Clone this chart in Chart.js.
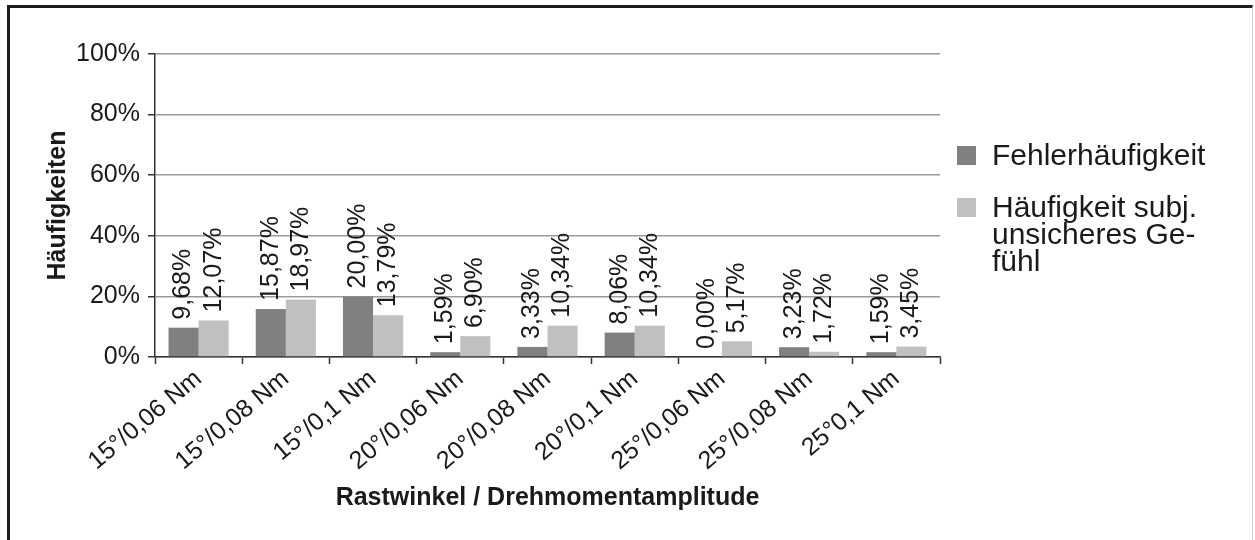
<!DOCTYPE html>
<html lang="de">
<head>
  <meta charset="UTF-8" />
  <title>Häufigkeiten nach Rastwinkel / Drehmomentamplitude</title>
  <script src="https://cdn.jsdelivr.net/npm/chart.js"></script>
  <style>
    * { margin: 0; padding: 0; box-sizing: border-box; }
    body { background: #fff; width: 1255px; height: 540px; overflow: hidden; position: relative; }
    .frame {
      position: absolute; left: 7px; top: 5px; width: 1246px; height: 600px;
      border-left: 3px solid #1e1e1e; border-top: 3px solid #1e1e1e; border-right: 1px solid #cfcfcf;
    }
    .chart-box { position: absolute; left: 0; top: 0; width: 1255px; height: 540px; }
  </style>
</head>
<body>
  <div class="frame"></div>
  <div class="chart-box"><canvas id="chart"></canvas></div>

  <script>
    const categories = ['15°/0,06 Nm', '15°/0,08 Nm', '15°/0,1 Nm', '20°/0,06 Nm', '20°/0,08 Nm',
                        '20°/0,1 Nm', '25°/0,06 Nm', '25°/0,08 Nm', '25°0,1 Nm'];
    const fehler = [9.68, 15.87, 20.00, 1.59, 3.33, 8.06, 0.00, 3.23, 1.59];
    const unsicher = [12.07, 18.97, 13.79, 6.90, 10.34, 10.34, 5.17, 1.72, 3.45];
    const seriesNames = [['Fehlerhäufigkeit'], ['Häufigkeit subj.', 'unsicheres Ge-', 'fühl']];
    const seriesColors = ['#808080', '#c0c0c0'];

    const FONT = '"Liberation Sans", Arial, sans-serif';

    // value labels standing upright on each bar
    const barLabels = {
      id: 'barLabels',
      afterDatasetsDraw(chart) {
        const ctx = chart.ctx;
        ctx.save();
        ctx.font = '25px ' + FONT;
        ctx.fillStyle = '#1a1a1a';
        ctx.textAlign = 'left';
        ctx.textBaseline = 'middle';
        chart.data.datasets.forEach((ds, i) => {
          chart.getDatasetMeta(i).data.forEach((bar, j) => {
            const txt = ds.data[j].toFixed(2).replace('.', ',') + '%';
            ctx.save();
            ctx.translate(bar.x, bar.y - 8);
            ctx.rotate(-Math.PI / 2);
            ctx.fillText(txt, 0, 0);
            ctx.restore();
          });
        });
        ctx.restore();
      }
    };

    // legend at the right, second entry wraps over three lines
    const sideLegend = {
      id: 'sideLegend',
      afterDraw(chart) {
        const ctx = chart.ctx;
        ctx.save();
        ctx.font = '30px ' + FONT;
        ctx.textBaseline = 'alphabetic';
        ctx.textAlign = 'left';
        const entries = [{ y: 165 }, { y: 217 }];
        entries.forEach((e, i) => {
          ctx.fillStyle = seriesColors[i];
          ctx.fillRect(957, e.y - 19, 19, 19);
          ctx.fillStyle = '#1a1a1a';
          seriesNames[i].forEach((line, k) => ctx.fillText(line, 992, e.y + k * 27));
        });
        ctx.restore();
      }
    };

    new Chart(document.getElementById('chart'), {
      type: 'bar',
      data: {
        labels: categories,
        datasets: [
          { label: seriesNames[0].join(' '), data: fehler, backgroundColor: seriesColors[0] },
          { label: seriesNames[1].join(' '), data: unsicher, backgroundColor: seriesColors[1] }
        ]
      },
      options: {
        responsive: true,
        maintainAspectRatio: false,
        animation: false,
        layout: { padding: { top: 54, left: 20, right: 315, bottom: 0 } },
        datasets: { bar: { categoryPercentage: 0.69, barPercentage: 1.0 } },
        plugins: { legend: { display: false }, tooltip: { enabled: false } },
        scales: {
          x: {
            afterFit(scale) { scale.height = 183; },
            grid: { drawOnChartArea: false, tickLength: 7, tickColor: '#333', tickWidth: 1.5 },
            border: { color: '#333', width: 1.5 },
            ticks: {
              color: '#1a1a1a', font: { family: FONT, size: 25 },
              maxRotation: 40, minRotation: 40, padding: 0, autoSkip: false
            },
            title: {
              display: true, text: 'Rastwinkel / Drehmomentamplitude', color: '#1a1a1a',
              font: { family: FONT, size: 25, weight: 'bold' }, padding: { top: 0, bottom: 27 }
            }
          },
          y: {
            min: 0, max: 100,
            afterFit(scale) { scale.width = 135; },
            grid: {
              color: '#9a9a9a', lineWidth: 1.5, tickLength: 7, tickWidth: 1.5,
              tickColor: (c) => (c.tick && c.tick.value % 20 === 0 ? '#333' : 'rgba(0,0,0,0)')
            },
            border: { color: '#333', width: 1.5 },
            ticks: {
              stepSize: 10, padding: 8, color: '#1a1a1a', font: { family: FONT, size: 25 },
              callback: (v) => (v % 20 === 0 ? v + '%' : '')
            },
            title: {
              display: true, text: 'Häufigkeiten', color: '#1a1a1a',
              font: { family: FONT, size: 25, weight: 'bold' }, padding: { top: 23, bottom: 0 }
            }
          }
        }
      },
      plugins: [barLabels, sideLegend]
    });
  </script>
</body>
</html>
